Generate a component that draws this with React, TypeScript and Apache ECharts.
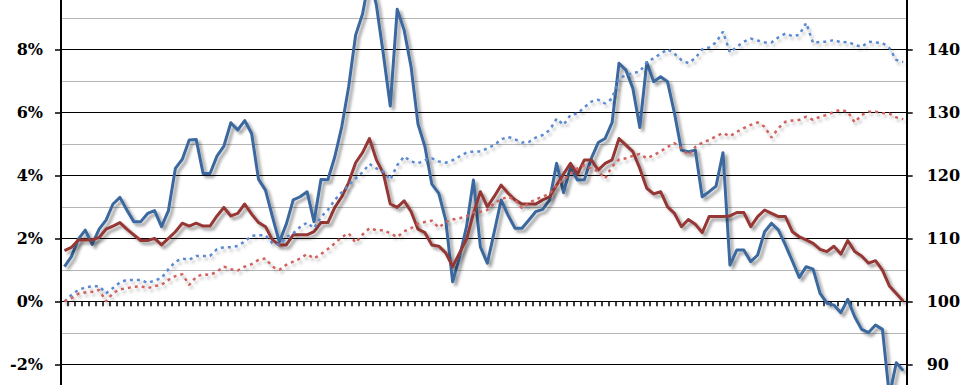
import React, { useEffect, useRef } from "react";
import * as echarts from "echarts";

const years = [2005, 2006, 2007, 2008, 2009, 2010, 2011, 2012, 2013, 2014, 2015];
const monthNames = ["Jan", "Feb", "Mar", "Apr", "May", "Jun", "Jul", "Aug", "Sep", "Oct", "Nov", "Dec"];
const categories: string[] = [];
years.forEach((y) => monthNames.forEach((m) => categories.push(`${m} ${y}`)));
categories.length = 122; // Jan 2005 .. Feb 2015

// Tick labels shown on each axis
const leftTicks = [-2, 0, 2, 4, 6, 8];
const rightTicks = [90, 100, 110, 120, 130, 140];

// Left axis (%): solid lines
const blueRate = [
  1.10, 1.42, 1.97, 2.26, 1.81, 2.29, 2.58, 3.09, 3.30, 2.90, 2.53, 2.53,
  2.79, 2.88, 2.37, 2.88, 4.22, 4.51, 5.12, 5.14, 4.06, 4.06, 4.61, 4.93,
  5.67, 5.44, 5.74, 5.33, 3.87, 3.53, 2.69, 1.88, 2.45, 3.22, 3.32, 3.48,
  2.53, 3.87, 3.86, 4.59, 5.54, 6.81, 8.45, 9.12, 10.3, 9.4, 7.85, 6.20,
  9.27, 8.61, 7.45, 5.63, 4.91, 3.72, 3.43, 2.58, 0.62, 1.42, 2.37, 3.85,
  1.73, 1.21, 2.20, 3.22, 2.73, 2.32, 2.32, 2.58, 2.85, 2.92, 3.22, 4.38,
  3.45, 4.25, 3.85, 3.86, 4.54, 5.04, 5.17, 5.67, 7.56, 7.34, 6.76, 5.52,
  7.58, 6.97, 7.13, 6.97, 5.97, 4.80, 4.75, 4.80, 3.32, 3.48, 3.66, 4.72,
  1.15, 1.63, 1.63, 1.26, 1.47, 2.21, 2.48, 2.26, 1.79, 1.28, 0.76, 1.10,
  1.02, 0.25, -0.06, -0.12, -0.36, 0.06, -0.49, -0.89, -0.99, -0.75, -0.89, -3.0,
  -1.95, -2.20,
];
const redRate = [
  1.61, 1.71, 1.95, 1.95, 1.95, 2.03, 2.29, 2.39, 2.50, 2.29, 2.11, 1.93,
  1.93, 2.00, 1.79, 2.00, 2.21, 2.48, 2.39, 2.48, 2.39, 2.39, 2.71, 2.98,
  2.71, 2.79, 3.09, 2.77, 2.50, 2.37, 1.95, 1.79, 1.79, 2.11, 2.11, 2.11,
  2.21, 2.50, 2.50, 2.98, 3.32, 3.77, 4.40, 4.72, 5.17, 4.49, 4.06, 3.09,
  2.98, 3.19, 2.85, 2.29, 2.18, 1.79, 1.75, 1.54, 1.10, 1.54, 1.97, 2.79,
  3.48, 3.00, 3.33, 3.69, 3.43, 3.22, 3.09, 3.09, 3.09, 3.22, 3.32, 3.69,
  4.04, 4.38, 4.04, 4.49, 4.49, 4.17, 4.38, 4.49, 5.17, 4.96, 4.75, 4.22,
  3.59, 3.41, 3.48, 3.00, 2.79, 2.37, 2.60, 2.45, 2.18, 2.69, 2.69, 2.69,
  2.71, 2.82, 2.82, 2.37, 2.69, 2.90, 2.79, 2.69, 2.69, 2.21, 2.05, 1.95,
  1.84, 1.65, 1.58, 1.75, 1.50, 1.93, 1.58, 1.44, 1.21, 1.29, 0.99, 0.49,
  0.25, 0.0,
];
// Right axis (index): dotted lines
const blueIndex = [
  100.0, 101.0, 101.8, 102.2, 102.4, 102.4, 101.3, 102.1, 103.0, 103.4, 103.4, 103.4,
  102.9, 103.3, 103.7, 105.1, 106.3, 106.8, 106.6, 107.2, 107.2, 107.2, 108.3, 108.6,
  108.6, 108.8, 109.5, 110.4, 110.5, 110.5, 109.2, 109.0, 110.2, 110.8, 111.8, 112.5,
  111.6, 113.4, 114.5, 116.1, 117.3, 118.5, 119.5, 120.5, 121.8, 121.1, 120.6, 119.3,
  121.6, 123.0, 122.2, 121.9, 122.4, 122.7, 122.2, 122.0, 122.4, 123.0, 123.6, 123.8,
  123.8, 124.3, 124.8, 125.7, 126.1, 125.7, 125.2, 125.3, 126.0, 126.4, 127.2, 129.0,
  128.0, 129.6, 129.8, 130.8, 131.7, 132.0, 131.4, 132.2, 135.4, 135.9, 136.2, 136.5,
  137.9, 138.6, 139.3, 140.0, 139.3, 138.3, 137.8, 138.6, 140.0, 140.3, 141.1, 142.8,
  139.5, 140.4, 141.2, 141.7, 141.4, 141.1, 141.1, 141.9, 142.5, 142.1, 142.3, 144.2,
  141.0, 141.2, 141.2, 141.5, 141.1, 141.2, 140.7, 140.4, 141.2, 141.1, 141.0, 140.2,
  138.3, 138.0,
];
const redIndex = [
  100.0, 100.5, 101.2, 101.4, 101.5, 101.8, 100.0, 101.3, 101.9, 102.1, 102.3, 102.4,
  102.1, 102.4, 102.6, 103.4, 104.0, 104.3, 102.6, 103.9, 104.3, 104.2, 104.7, 105.5,
  105.1, 104.9, 105.5, 105.9, 106.6, 106.8, 105.5, 105.0, 105.8, 106.3, 106.8, 107.5,
  106.8, 107.5, 108.3, 109.2, 110.2, 110.8, 109.3, 110.6, 111.6, 111.3, 111.3, 110.8,
  110.2, 111.1, 111.6, 112.3, 112.6, 112.8, 111.7, 112.6, 113.0, 113.2, 113.5, 114.1,
  114.2, 114.5, 115.6, 116.2, 116.6, 116.1, 114.8, 115.6, 116.2, 116.6, 117.1, 118.5,
  119.3, 120.3, 121.1, 121.6, 121.1, 120.6, 119.5, 121.4, 122.5, 122.7, 123.1, 123.4,
  122.7, 123.2, 123.8, 124.5, 125.1, 124.3, 123.2, 124.5, 125.2, 125.6, 126.2, 126.7,
  126.2, 126.9, 127.5, 128.0, 128.4, 127.7, 126.0, 127.5, 128.5, 128.7, 128.8, 129.3,
  128.8, 129.3, 129.6, 130.1, 130.4, 130.1, 128.4, 129.6, 130.1, 130.1, 129.9, 129.8,
  129.2, 128.9,
];

const LABEL_FONT = {
  fontFamily: "DejaVu Serif",
  fontWeight: "bold" as const,
  fontSize: 16,
  color: "#000",
};

export default function App() {
  const ref = useRef<HTMLDivElement>(null);
  useEffect(() => {
    document.body.style.margin = "0";
    const chart = echarts.init(ref.current!, null, { renderer: "svg" });
    const solidShadow = {
      shadowColor: "rgba(0,0,0,0.38)",
      shadowBlur: 3,
      shadowOffsetX: 3,
      shadowOffsetY: 3,
    };
    const dotShadow = {
      shadowColor: "rgba(0,0,0,0.28)",
      shadowBlur: 3,
      shadowOffsetX: 2,
      shadowOffsetY: 3,
    };
    chart.setOption({
      animation: false,
      backgroundColor: "#fff",
      grid: {
        left: 61,
        right: 60.3,
        top: -13.67,
        bottom: -42.33,
        containLabel: false,
        outerBoundsMode: "none",
      },
      xAxis: {
        type: "category",
        data: categories,
        boundaryGap: true,
        axisLine: { show: true, onZero: true, onZeroAxisIndex: 1, lineStyle: { color: "#000", width: 1 } },
        axisTick: { show: true, interval: 0, length: 5, lineStyle: { color: "#000", width: 1.5 } },
        axisLabel: { show: false },
        splitLine: { show: false },
      },
      yAxis: [
        {
          type: "value",
          position: "left",
          min: -4,
          max: 10,
          interval: 1,
          axisLine: { show: false },
          axisTick: { show: false },
          axisLabel: { show: false },
          splitLine: { show: true, lineStyle: { color: "#b4b4b4", width: 1 } },
        },
        {
          type: "value",
          position: "left",
          min: -4,
          max: 10,
          interval: 2,
          axisLine: { show: true, lineStyle: { color: "#000", width: 2 } },
          axisTick: { show: true, length: 6, lineStyle: { color: "#000", width: 1.5 } },
          axisLabel: {
            ...LABEL_FONT,
            margin: 18,
            formatter: (v: number) => (leftTicks.includes(v) ? `${v}%` : ""),
          },
          splitLine: { show: true, lineStyle: { color: "#000", width: 1 } },
        },
        {
          type: "value",
          position: "right",
          min: 80,
          max: 150,
          interval: 10,
          axisLine: { show: true, lineStyle: { color: "#000", width: 2 } },
          axisTick: { show: true, length: 6, lineStyle: { color: "#000", width: 1.5 } },
          axisLabel: {
            ...LABEL_FONT,
            margin: 20,
            formatter: (v: number) => (rightTicks.includes(v) ? `${v}` : ""),
          },
          splitLine: { show: false },
        },
      ],
      series: [
        {
          name: "Blue rate",
          type: "line",
          yAxisIndex: 1,
          data: blueRate,
          symbol: "none",
          lineStyle: { color: "#3A679E", width: 3, join: "round", ...solidShadow },
          z: 3,
        },
        {
          name: "Red rate",
          type: "line",
          yAxisIndex: 1,
          data: redRate,
          symbol: "none",
          lineStyle: { color: "#953735", width: 3, join: "round", ...solidShadow },
          z: 3,
        },
        {
          name: "Blue index",
          type: "line",
          yAxisIndex: 2,
          data: blueIndex,
          symbol: "none",
          lineStyle: { color: "#5B8AD0", width: 2.5, type: [3, 4], cap: "butt", ...dotShadow },
          z: 4,
        },
        {
          name: "Red index",
          type: "line",
          yAxisIndex: 2,
          data: redIndex,
          symbol: "none",
          lineStyle: { color: "#D0625F", width: 2.5, type: [3, 4], cap: "butt", ...dotShadow },
          z: 4,
        },
      ],
    });
    return () => chart.dispose();
  }, []);
  return (
    <div
      ref={ref}
      style={{ position: "absolute", left: 0, top: 0, width: 967, height: 385, overflow: "hidden" }}
    />
  );
}
